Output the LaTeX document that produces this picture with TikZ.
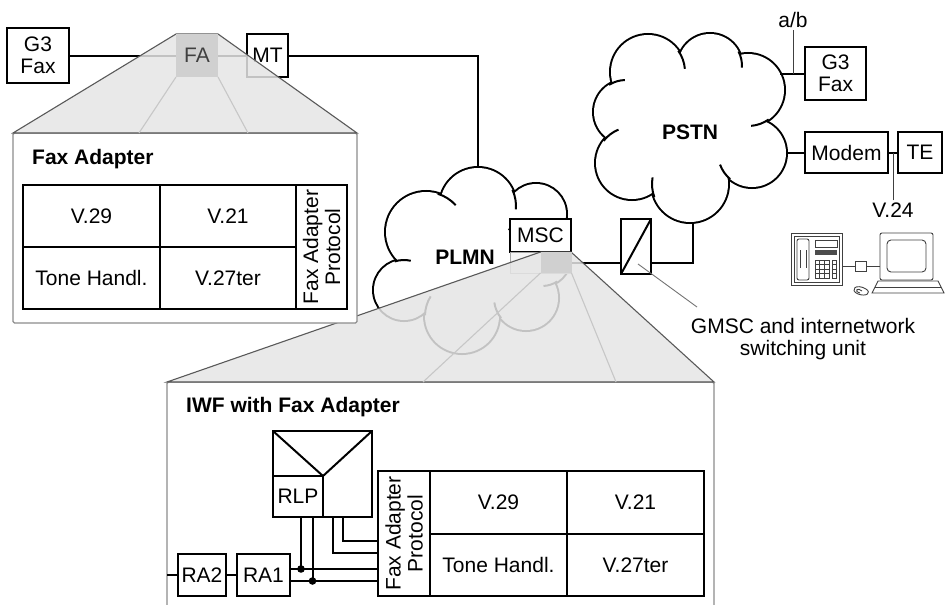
\documentclass[tikz,border=0pt]{standalone}
\usepackage{fontspec}
\setmainfont{Liberation Sans}
\usetikzlibrary{positioning,calc}

\newcommand\lblfont{\fontsize{21}{22}\selectfont}

\begin{document}
\begin{tikzpicture}[
  x=1pt, y=-1pt,
  font=\lblfont,
  box/.style={draw, line width=2pt, inner sep=0pt, outer sep=0pt, align=center, fill=white},
  cell/.style={draw, line width=2pt, inner sep=0pt, outer sep=0pt, align=center},
  wire/.style={line width=2pt},
  tick/.style={draw=black!75, line width=1pt},
  lobe/.style={line width=2pt},
  panel/.style={draw=black!45, fill=white, line width=1.2pt, rounded corners=1.5pt, inner sep=0pt, outer sep=0pt},
  zoomarea/.style={fill=gray!20, fill opacity=0.85, draw=black!65, line width=1.1pt},
  zoomline/.style={draw=black!22, line width=1.1pt},
  icon/.style={draw=black!75, line width=0.9pt}
]
\useasboundingbox (0,0) rectangle (945,605);

% PLMN cloud: lobe outlines, white inside, then the curls
\foreach \cx/\cy/\rr in {478/206/38, 536/214/30, 542/258/28, 526/298/32, 462/316/37, 404/290/30, 426/232/40}
  \draw[line width=4pt] (\cx,\cy) circle[radius=\rr];
\foreach \cx/\cy/\rr in {478/206/38, 536/214/30, 542/258/28, 526/298/32, 462/316/37, 404/290/30, 426/232/40, 470/265/52}
  \fill[white] (\cx,\cy) circle[radius=\rr];
\foreach \cx/\cy/\rr/\a/\b in {426/232/40/-73/-42, 478/206/38/-25/5, 404/290/30/252/283, 462/316/37/181/212, 526/298/32/141/172, 542/258/28/57/87}
  \draw[lobe] (\cx,\cy) ++(\a:\rr) arc[start angle=\a, end angle=\b, radius=\rr];
\node[font=\lblfont\bfseries] (plmn) at (465,257) {PLMN};

% PSTN cloud
\foreach \cx/\cy/\rr in {648/72/37, 710/66/32, 748/90/36, 752/153/34, 690/184/38, 632/163/36, 626/112/32}
  \draw[line width=4pt] (\cx,\cy) circle[radius=\rr];
\foreach \cx/\cy/\rr in {648/72/37, 710/66/32, 748/90/36, 752/153/34, 690/184/38, 632/163/36, 626/112/32, 690/130/60}
  \fill[white] (\cx,\cy) circle[radius=\rr];
\foreach \cx/\cy/\rr/\a/\b in {648/72/37/-35/-5, 710/66/32/-27/3, 748/90/36/55/85, 752/153/34/130/160, 690/184/38/160/190, 632/163/36/218/248, 626/112/32/238/268}
  \draw[lobe] (\cx,\cy) ++(\a:\rr) arc[start angle=\a, end angle=\b, radius=\rr];
\node[font=\lblfont\bfseries] (pstn) at (690,132) {PSTN};

% mobile side
\node[box, minimum width=62, minimum height=55] (g3l) at (38,55.5) {G3\\Fax};
\node[box, minimum width=41, minimum height=43] (mt) at (267.5,55.5) {MT};
\node[box, minimum width=61, minimum height=33] (msc) at (540.5,235.5) {MSC};
\node[draw=black!35, fill=gray!8, line width=1pt, inner sep=0pt, outer sep=0pt,
      minimum width=61, minimum height=21, below=0pt of msc] (mscbase) {};
\node[box, minimum width=30, minimum height=55] (gmsc) at (636,246.5) {};
\draw[line width=2pt] (gmsc.south west) -- (gmsc.north east);

\coordinate (plmntop) at (478,168);
\coordinate (pstnfoot) at (693,222);
\draw[wire] (g3l.east) -- (mt.west);
\draw[wire] (mt.east) -| (plmntop);
\draw[wire] (mscbase.east) -- (mscbase.east -| gmsc.west);
\draw[wire] (mscbase.east -| gmsc.east) -| (pstnfoot);

% IWF detail
\node[panel, minimum width=547, minimum height=240, anchor=north west] (iwf) at (167,382) {};
\draw[zoomarea] (msc.south) -- (msc.south east) -- (iwf.north east) -- (iwf.north west) -- cycle;
\node[fill=gray!37, inner sep=0pt, outer sep=0pt, minimum width=31, minimum height=21, anchor=north west] (msczoom) at (msc.south) {};
\coordinate (izl) at (423,382);
\coordinate (izr) at (616,382);
\draw[zoomline] (msczoom.south west) -- (izl);
\draw[zoomline] (msczoom.south east) -- (izr);

% fax adapter detail
\node[panel, minimum width=344, minimum height=190, anchor=north west] (faxp) at (13,133) {};
\coordinate (fanw) at (176,34);
\coordinate (fane) at (218,34);
\draw[zoomarea] (fanw) -- (fane) -- (faxp.north east) -- (faxp.north west) -- cycle;
\node[fill=gray!37, text=black!75, inner sep=0pt, outer sep=0pt, minimum width=42, minimum height=43, anchor=north west] (fa) at (fanw) {FA};
\coordinate (fzl) at (139,133);
\coordinate (fzr) at (248,133);
\draw[zoomline] (fa.south west) -- (fzl);
\draw[zoomline] (fa.south east) -- (fzr);

\node[font=\lblfont\bfseries, anchor=west, inner sep=0pt] (fatitle) at (32,159) {Fax Adapter};
\node[cell, minimum width=137, minimum height=62] (v29a) at (91.5,216) {V.29};
\node[cell, minimum width=136, minimum height=62, right=0pt of v29a] (v21a) {V.21};
\node[cell, minimum width=137, minimum height=62, below=0pt of v29a] (tonea) {Tone Handl.};
\node[cell, minimum width=136, minimum height=62, below=0pt of v21a] (v27a) {V.27ter};
\node[cell, minimum width=51, minimum height=124, anchor=north west] (fapa) at (v21a.north east) {};
\node[rotate=90, align=center, inner sep=0pt] (fapatxt) at (fapa) {Fax Adapter\\Protocol};

% IWF contents
\node[font=\lblfont\bfseries, anchor=west, inner sep=0pt] (iwftitle) at (186,407) {IWF with Fax Adapter};
\node[cell, minimum width=52, minimum height=125] (fapb) at (404,533.5) {};
\node[rotate=90, align=center, inner sep=0pt] (fapbtxt) at (fapb) {Fax Adapter\\Protocol};
\node[cell, minimum width=137, minimum height=63, anchor=north west] (v29b) at (fapb.north east) {V.29};
\node[cell, minimum width=137, minimum height=63, right=0pt of v29b] (v21b) {V.21};
\node[cell, minimum width=137, minimum height=62, below=0pt of v29b] (toneb) {Tone Handl.};
\node[cell, minimum width=137, minimum height=62, below=0pt of v21b] (v27b) {V.27ter};

\node[cell, minimum width=99, minimum height=86] (rlpblk) at (322.5,474) {};
\node[cell, minimum width=50, minimum height=41, anchor=south west] (rlp) at (rlpblk.south west) {RLP};
\draw[wire] (rlpblk.north west) -- (rlp.north east) -- (rlpblk.north east);

\node[cell, minimum width=53, minimum height=42] (ra1) at (263.5,575) {RA1};
\node[cell, minimum width=48, minimum height=42, left=11pt of ra1] (ra2) {RA2};
\draw[wire] (ra2.west -| iwf.west) -- (ra2.west);
\draw[wire] (ra2) -- (ra1);

\coordinate (ra1up) at ([yshift=6pt]ra1.east);
\coordinate (ra1dn) at ([yshift=-6pt]ra1.east);
\coordinate (j1) at ([xshift=11pt]ra1up);
\coordinate (j2) at ([xshift=22.5pt]ra1dn);
\coordinate (k1) at (333,553);
\coordinate (k2) at (342.5,541);
\draw[wire] (ra1up) -- (ra1up -| fapb.west);
\draw[wire] (ra1dn) -- (ra1dn -| fapb.west);
\draw[wire] (j1 |- rlp.south) -- (j1);
\draw[wire] (j2 |- rlp.south) -- (j2);
\fill (j1) circle[radius=3.8];
\fill (j2) circle[radius=3.8];
\draw[wire] (k1 |- rlpblk.south) -- (k1) -- (k1 -| fapb.west);
\draw[wire] (k2 |- rlpblk.south) -- (k2) -- (k2 -| fapb.west);

% fixed network side
\node[box, minimum width=61, minimum height=53] (g3r) at (835.5,73.5) {G3\\Fax};
\node[box, minimum width=83, minimum height=41] (modem) at (846.5,152.5) {Modem};
\node[box, minimum width=44, minimum height=41, right=10pt of modem] (te) {TE};
\coordinate (pstnfax) at (780,73.5);
\coordinate (pstnmod) at (786,152.5);
\draw[wire] (pstnfax) -- (g3r.west);
\draw[wire] (pstnmod) -- (modem.west);
\draw[wire] (modem) -- (te);

\node[inner sep=2pt] (ab) at (793,20) {a/b};
\draw[tick] (ab.south) -- (ab.south |- pstnfax);
\node[inner sep=2pt] (v24) at (893,210) {V.24};
\draw[tick] (v24.north) -- (v24.north |- te.west);

\node[align=center] (gmsclbl) at (803,339) {GMSC and internetwork\\switching unit};
\coordinate (gmscin) at ([xshift=2pt, yshift=-17.5pt]gmsc.center);
\coordinate (gmscend) at (697,307);
\draw[draw=black!55, line width=0.9pt] (gmscin) -- (gmscend);

% telephone and PC
\node[icon, inner sep=0pt, minimum width=51, minimum height=52] (phone) at (816.5,259) {};
\draw[icon] (794,236) rectangle (839,282);
\draw[icon, rounded corners=2pt] (797,239) rectangle (809,280);
\draw[icon] (800,250) -- (800,268) (806,250) -- (806,268);
\draw[icon] (815,240) rectangle (837,247);
\fill[black!70] (815,250) rectangle (837,255);
\foreach \i in {0,...,3}
  \foreach \j in {0,1,2}
    \draw[icon, line width=0.6pt] (815+\j*4.7, 260+\i*4.5) rectangle ++(4.7,4.5);
\foreach \i in {0,...,3}
  \draw[icon, line width=0.6pt] (832,260+\i*4.5) rectangle ++(4.5,4.5);

\node[icon, inner sep=0pt, minimum width=53, minimum height=47, rounded corners=2pt] (pc) at (906.5,256.5) {};
\draw[icon, rounded corners=4pt] (887,240) rectangle (926,272);
\draw[icon] (878,281) -- (938,281) -- (944,293) -- (872,293) -- cycle;
\draw[icon] (875,287) -- (941,287);
\draw[icon] (866,289) .. controls (856,283) and (849,290) .. (858,294)
  .. controls (866,297) and (872,293) .. (866,289);
\draw[icon] (862,291) .. controls (858,287) and (853,291) .. (860,293);

\node[icon, inner sep=0pt, minimum width=11, minimum height=10] (plug) at (860.5,266) {};
\draw[icon] (plug.west) -- (plug.west -| phone.east);
\draw[icon] (plug.east) -- (plug.east -| pc.west);
\end{tikzpicture}
\end{document}
